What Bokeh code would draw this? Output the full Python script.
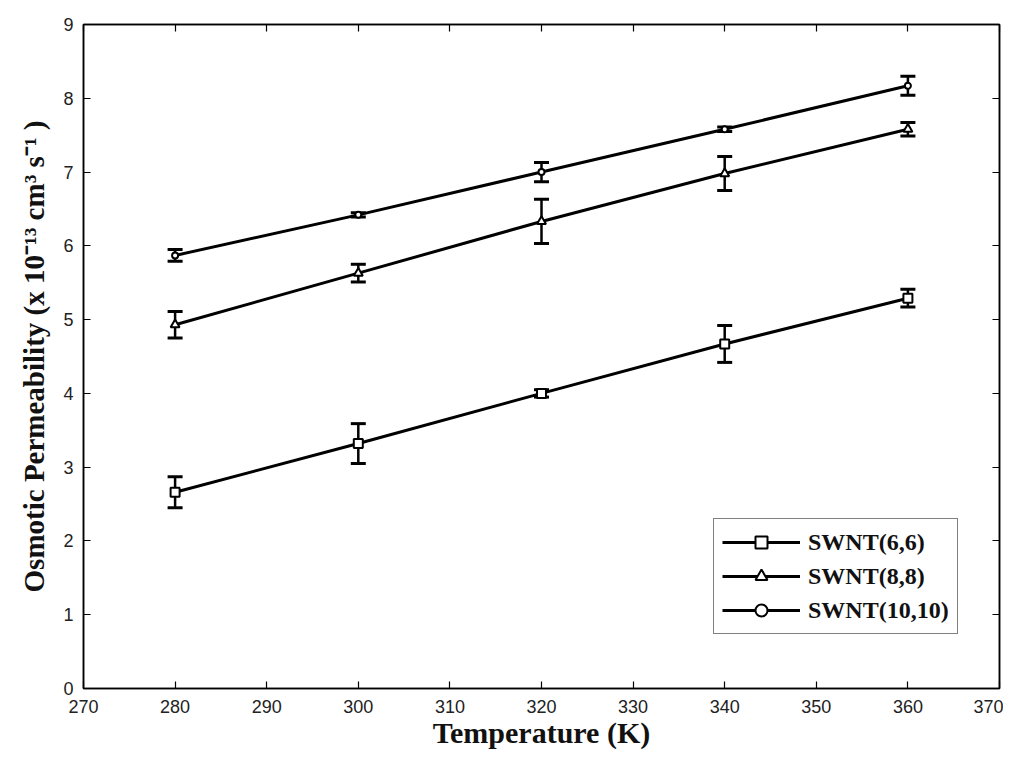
from bokeh.plotting import figure
from bokeh.models import (ColumnDataSource, Whisker, TeeHead, LinearAxis, Range1d,
                          Legend, LegendItem, FixedTicker)
from bokeh.embed import file_html
from bokeh.resources import INLINE

temps = [280, 300, 320, 340, 360]
swnt66 = [2.66, 3.32, 4.0, 4.67, 5.29]
swnt66_err = [0.21, 0.27, 0.05, 0.25, 0.12]
swnt88 = [4.93, 5.63, 6.33, 6.98, 7.58]
swnt88_err = [0.18, 0.12, 0.30, 0.23, 0.09]
swnt1010 = [5.87, 6.42, 7.0, 7.58, 8.17]
swnt1010_err = [0.08, 0.03, 0.13, 0.03, 0.13]
labels = ["SWNT(6,6)", "SWNT(8,8)", "SWNT(10,10)"]
x_ticks = list(range(270, 371, 10))
y_ticks = list(range(0, 10))

p = figure(frame_width=916, frame_height=664, output_backend="svg", toolbar_location=None,
           x_range=Range1d(270, 370), y_range=Range1d(0, 9),
           min_border_left=83, min_border_right=4, min_border_top=24, min_border_bottom=40)
p.grid.visible = False
p.outline_line_color = "black"
p.outline_line_width = 1.5
p.background_fill_color = "white"

xax = p.below[0]
yax = p.left[0]
xax.ticker = FixedTicker(ticks=x_ticks)
yax.ticker = FixedTicker(ticks=y_ticks)

def style_axis(ax):
    ax.major_tick_in = 7
    ax.major_tick_out = 0
    ax.minor_tick_in = 0
    ax.minor_tick_out = 0
    ax.axis_line_width = 1.5
    ax.major_tick_line_width = 1.2
    ax.major_label_text_font = "Liberation Sans"
    ax.major_label_text_font_size = "18px"
    ax.major_label_text_color = "#222222"

style_axis(xax)
style_axis(yax)
xax.major_label_standoff = 11
yax.major_label_standoff = 10

top = LinearAxis(ticker=FixedTicker(ticks=x_ticks),
                 major_label_overrides={t: "" for t in x_ticks})
right = LinearAxis(ticker=FixedTicker(ticks=y_ticks),
                   major_label_overrides={t: "" for t in y_ticks})
for ax in (top, right):
    style_axis(ax)
    ax.major_label_standoff = 0
p.add_layout(top, "above")
p.add_layout(right, "right")

xax.axis_label = "Temperature (K)"
yax.axis_label = "Osmotic Permeability (x 10\u207b\u00b9\u00b3 cm\u00b3 s\u207b\u00b9 )"
for ax in (xax, yax):
    ax.axis_label_text_font = "Liberation Serif"
    ax.axis_label_text_font_style = "bold"
    ax.axis_label_text_color = "#111111"
xax.axis_label_text_font_size = "30px"
yax.axis_label_text_font_size = "29px"
xax.axis_label_standoff = 0
yax.axis_label_standoff = 10

series = [(swnt66, swnt66_err, "square"), (swnt88, swnt88_err, "triangle"), (swnt1010, swnt1010_err, "circle")]
items = []
for (vals, errs, mk), lab in zip(series, labels):
    src = ColumnDataSource(dict(x=temps, y=vals,
                                lo=[v - e for v, e in zip(vals, errs)],
                                hi=[v + e for v, e in zip(vals, errs)]))
    ln = p.line("x", "y", source=src, line_color="black", line_width=3)
    sz = 9 if mk != "circle" else 6
    sc = p.scatter("x", "y", source=src, marker=mk, size=sz, fill_color="white",
                   line_color="black", line_width=2)
    w = Whisker(source=src, base="x", lower="lo", upper="hi",
                line_color="black", line_width=2.5,
                upper_head=TeeHead(size=15, line_color="black", line_width=3),
                lower_head=TeeHead(size=15, line_color="black", line_width=3))
    p.add_layout(w)
    items.append(LegendItem(label=lab, renderers=[ln, sc]))

legend = Legend(items=items, location=(630, 54))
legend.label_text_font = "Liberation Serif"
legend.label_text_font_style = "bold"
legend.label_text_font_size = "24px"
legend.label_text_color = "#111111"
legend.border_line_color = "black"
legend.border_line_width = 1.5
legend.glyph_width = 78
legend.glyph_height = 30
legend.label_height = 30
legend.spacing = 4
legend.padding = 8
legend.margin = 0
legend.label_standoff = 8
legend.background_fill_alpha = 1
p.add_layout(legend, "center")

open("out.html", "w").write(file_html(p, INLINE))
